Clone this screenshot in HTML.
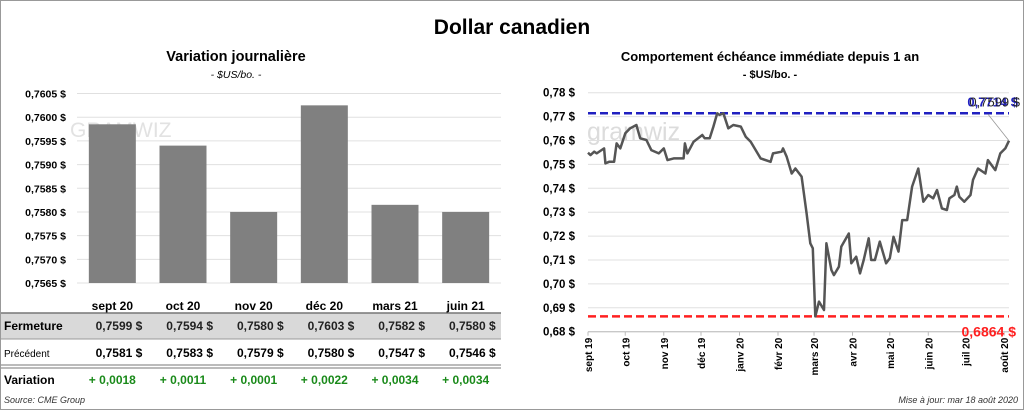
<!DOCTYPE html>
<html><head><meta charset="utf-8"><style>
body{margin:0;background:#fff;font-family:"Liberation Sans",sans-serif;}
#wrap{position:relative;width:1024px;height:410px;overflow:hidden;}
svg text{font-family:"Liberation Sans",sans-serif;}
</style></head><body>
<div id="wrap">
<svg id="s" width="1024" height="410" xmlns="http://www.w3.org/2000/svg">
<rect x="0.5" y="0.5" width="1023" height="409" fill="#fff" stroke="#999"/>
<text x="512" y="34" text-anchor="middle" font-size="21" font-weight="bold">Dollar canadien</text>
<text x="236" y="61" text-anchor="middle" font-size="14.5" font-weight="bold">Variation  journalière</text>
<text x="236" y="78" text-anchor="middle" font-size="10.5" font-style="italic">- $US/bo. -</text>
<text x="770" y="61" text-anchor="middle" font-size="13" font-weight="bold">Comportement échéance immédiate depuis 1 an</text>
<text x="770" y="78" text-anchor="middle" font-size="11" font-weight="bold">- $US/bo. -</text>
<text x="70" y="137" font-size="21" fill="#e2e2e2">GRAMWIZ</text>
<text x="587" y="140" font-size="25" fill="#dcdcdc">gramwiz</text>
<g id="left"></g><g id="right"></g><g id="table"></g>
<text x="4" y="403" font-size="9" font-style="italic" fill="#333">Source: CME Group</text>
<text x="1018" y="403" text-anchor="end" font-size="9" font-style="italic" fill="#333">Mise à jour: mar 18 août 2020</text>
</svg>
</div>
<script>
const barCats=["sept 20","oct 20","nov 20","déc 20","mars 21","juin 21"];
const barClose=[0.75985,0.7594,0.7580,0.76025,0.75815,0.7580];
const barCloseText=["0,7599","0,7594","0,7580","0,7603","0,7582","0,7580"];
const barPrev=[0.7581,0.7583,0.7579,0.7580,0.7547,0.7546];
const barVar=["+ 0,0018","+ 0,0011","+ 0,0001","+ 0,0022","+ 0,0034","+ 0,0034"];
const barTicks=[0.7565,0.7570,0.7575,0.7580,0.7585,0.7590,0.7595,0.7600,0.7605];
const lineDays=[0,2,5,7,13,14,17,21,23,26,30,34,39,42,47,51,57,61,64,69,77,78,80,85,92,94,98,101,104,106,109,113,117,123,127,131,139,147,149,156,157,160,164,167,172,176,179,181,183,186,190,192,196,198,202,204,210,212,216,219,222,226,228,231,235,240,243,246,250,253,257,261,266,270,274,278,281,285,289,291,295,297,299,303,308,310,314,320,322,328,332,336,339];
const lineVals=[.7549,.7539,.7553,.7546,.7567,.7504,.7511,.7511,.7588,.7567,.7630,.7651,.7665,.7609,.7602,.7560,.7546,.7567,.7518,.7525,.7525,.7588,.7546,.7595,.7623,.7609,.7609,.7658,.7714,.7707,.7714,.7651,.7665,.7658,.7616,.7595,.7525,.7511,.7546,.7553,.7567,.7532,.7462,.7483,.7449,.7295,.7170,.7149,.6864,.6926,.6891,.7170,.7058,.7037,.7072,.7156,.7211,.7086,.7114,.7044,.7100,.7191,.7100,.7100,.7177,.7086,.7107,.7197,.7135,.7267,.7267,.7407,.7483,.7344,.7372,.7358,.7393,.7316,.7309,.7358,.7372,.7407,.7365,.7344,.7372,.7435,.7483,.7462,.7518,.7476,.7546,.7567,.7599];
const lineTicks=[0.68,0.69,0.70,0.71,0.72,0.73,0.74,0.75,0.76,0.77,0.78];
const monthLabels=["sept 19","oct 19","nov 19","déc 19","janv 20","févr 20","mars 20","avr 20","mai 20","juin 20","juil 20","août 20"];
const monthDays=[0,30,61,91,122,153,182,213,243,274,304,335];
const maxVal=0.7714, minVal=0.6864;
const NS="http://www.w3.org/2000/svg";
function mk(p,tag,at,txt){const e=document.createElementNS(NS,tag);for(const k in at)e.setAttribute(k,at[k]);if(txt!==undefined)e.textContent=txt;p.appendChild(e);return e;}
const fmt=(v,d)=>v.toFixed(d).replace('.',',');
const L=document.getElementById('left');
const lx0=77,lx1=501,ly=v=>283-(v-0.7565)/0.0040*189.5;
barTicks.forEach(t=>{const g=mk(L,'line',{x1:lx0,x2:lx1,y1:ly(t),y2:ly(t),stroke:'#e0e0e0'});

const tx=mk(L,'text',{x:66,y:ly(t)+4,'text-anchor':'end','font-size':10.5,'font-weight':'bold'},fmt(t,4)+' $');
});
const bw=(lx1-lx0)/barCats.length;
barCats.forEach((c,i)=>{const cx=lx0+bw*(i+0.5);
const r=mk(L,'rect',{x:cx-23.5,y:ly(barClose[i]),width:47,height:ly(0.7565)-ly(barClose[i]),fill:'#808080'});
});
const T=document.getElementById('table');
const hb=mk(T,'rect',{x:1,y:313,width:500,height:26,fill:'#d9d9d9'});

[[313,'#777',1.5],[339,'#999',1],[365,'#777',1],[368,'#777',1]].forEach(a=>{const l=mk(T,'line',{x1:1,x2:501,y1:a[0],y2:a[0],stroke:a[1],'stroke-width':a[2]});
});
const rl=[["Fermeture",330,12,'bold'],["Précédent",357,10,'normal'],["Variation",384,12,'bold']];
rl.forEach(r=>{const t=mk(T,'text',{x:4,y:r[1],'font-size':r[2],'font-weight':r[3]},r[0]);
});
barCats.forEach((c,i)=>{const cx=lx0+bw*(i+0.5);
let t=mk(T,'text',{x:cx,y:310,'text-anchor':'middle','font-size':12,'font-weight':'bold'},c);

t=mk(T,'text',{x:cx+30,y:330,'text-anchor':'end','font-size':12,'font-weight':'bold',fill:'#222','xml:space':'preserve'},barCloseText[i]+'  $');

t=mk(T,'text',{x:cx+30,y:357,'text-anchor':'end','font-size':12,'font-weight':'bold','xml:space':'preserve'},fmt(barPrev[i],4)+'  $');

t=mk(T,'text',{x:cx,y:384,'text-anchor':'middle','font-size':12,'font-weight':'bold',fill:'#1a8a1a'},barVar[i]);
});
const R=document.getElementById('right');
const rx=d=>588+d/339*421, ry=v=>92.7+(0.78-v)/0.10*239;
lineTicks.forEach(t=>{const g=mk(R,'line',{x1:588,x2:1009,y1:ry(t),y2:ry(t),stroke:'#e0e0e0'});

const tx=mk(R,'text',{x:575,y:ry(t)+4,'text-anchor':'end','font-size':11.5,'font-weight':'bold'},fmt(t,2)+' $');
});
const ax=mk(R,'line',{x1:588,x2:1009,y1:ry(0.68),y2:ry(0.68),stroke:'#bbb'});

monthLabels.forEach((m,i)=>{const x=rx(monthDays[i]);
const tk=mk(R,'line',{x1:x,x2:x,y1:ry(0.68),y2:ry(0.68)+4,stroke:'#bbb'});

const t=mk(R,'text',{x:0,y:0,'text-anchor':'end','font-size':10,'font-weight':'bold',transform:`translate(${x+4},${ry(0.68)+6}) rotate(-90)`},m);
});
const hl=[[maxVal,'#2020c0'],[minVal,'#ff2020']];
hl.forEach(h=>{const l=mk(R,'line',{x1:588,x2:1009,y1:ry(h[0]),y2:ry(h[0]),stroke:h[1],'stroke-width':2.5,'stroke-dasharray':'8,4'});
});
const pts=lineDays.map((d,i)=>rx(d).toFixed(1)+','+ry(lineVals[i]).toFixed(1)).join(' ');
const pl=mk(R,'polyline',{points:pts,fill:'none',stroke:'#555','stroke-width':2.5,'stroke-linejoin':'round'});

const lx=rx(lineDays[lineDays.length-1]),lv=lineVals[lineVals.length-1];
const cl=mk(R,'line',{x1:lx,y1:ry(lv),x2:988,y2:ry(maxVal)+1,stroke:'#999','stroke-width':0.8});

let t=mk(R,'text',{x:1018,y:ry(maxVal)-7,'text-anchor':'end','font-size':13,'font-weight':'bold',fill:'#2020c0'},fmt(maxVal,4)+' $');

t=mk(R,'text',{x:1020,y:ry(maxVal)-7,'text-anchor':'end','font-size':13,fill:'#222'},fmt(lv,4)+' $');

t=mk(R,'text',{x:1016,y:ry(0.68)+5,'text-anchor':'end','font-size':14,'font-weight':'bold',fill:'#ff2020'},fmt(minVal,4)+' $');

</script>
</body></html>
